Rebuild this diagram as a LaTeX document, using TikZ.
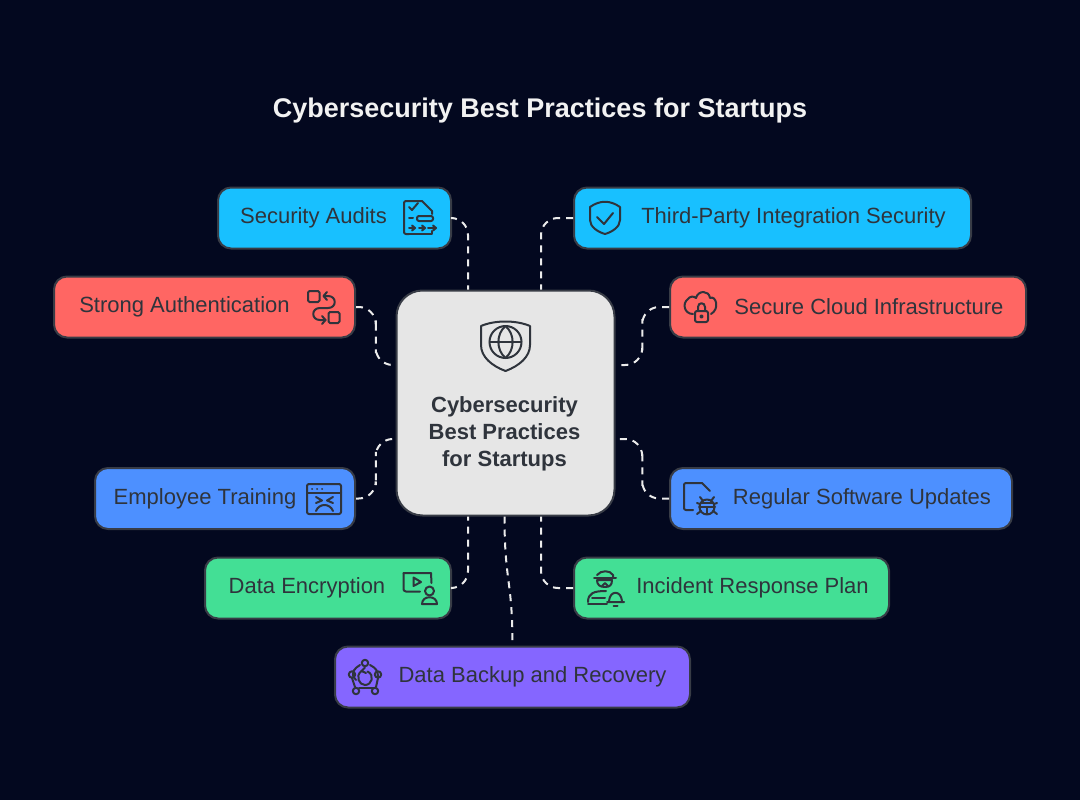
\documentclass[tikz,border=0pt]{standalone}
\usepackage{fontspec}
\usepackage{xcolor}
\usetikzlibrary{calc}
\setmainfont{Liberation Sans}
\definecolor{night}{HTML}{03081F}
\definecolor{ink}{HTML}{2F343C}
\definecolor{rim}{HTML}{383C46}
\definecolor{hubgray}{HTML}{E6E6E6}
\definecolor{skyc}{HTML}{18C0FF}
\definecolor{coral}{HTML}{FF6663}
\definecolor{azure}{HTML}{4D90FF}
\definecolor{mint}{HTML}{43DF95}
\definecolor{violet}{HTML}{8566FF}

\begin{document}
\begin{tikzpicture}[x=1pt,y=-1pt]
        \tikzstyle{boxnode}=[draw=rim,line width=2pt,rounded corners=13pt,minimum height=61pt,inner sep=0pt]
        \tikzstyle{textnode}=[text=ink,font=\fontsize{22}{26}\selectfont,inner sep=0pt]
        \tikzstyle{link}=[draw=white!92!black,line width=2pt,dash pattern=on 7pt off 6pt,rounded corners=17pt]
        \tikzstyle{icon}=[draw=ink,line width=2pt,line cap=round,line join=round]

            \fill[night] (0,0) rectangle (1080,800);
            \node[text=white!95!black,font=\fontsize{27}{32}\selectfont\bfseries,inner sep=0pt] (Title) at (540,111) {Cybersecurity Best Practices for Startups};

            \node[boxnode,fill=hubgray,rounded corners=26pt,minimum width=218pt,minimum height=225pt] (Hub) at (505.5,403) {};
            \node[textnode,font=\fontsize{22}{27.2}\selectfont\bfseries,align=center] (HubText) at ($(Hub)+(-1,31)$) {Cybersecurity\\Best Practices\\for Startups};

            \node[boxnode,fill=skyc,minimum width=233pt] (Audits) at (334.5,218) {};
            \node[boxnode,fill=skyc,minimum width=397pt] (Third) at (772.5,218) {};
            \node[boxnode,fill=coral,minimum width=301pt] (Auth) at (204.5,307) {};
            \node[boxnode,fill=coral,minimum width=356pt] (Cloud) at (848,307) {};
            \node[boxnode,fill=azure,minimum width=260pt] (Training) at (225,498.5) {};
            \node[boxnode,fill=azure,minimum width=342pt] (Updates) at (841,498.5) {};
            \node[boxnode,fill=mint,minimum width=246pt] (Encrypt) at (328,588) {};
            \node[boxnode,fill=mint,minimum width=315pt] (Incident) at (731.5,588) {};
            \node[boxnode,fill=violet,minimum width=355pt] (Backup) at (512.5,677) {};

            \node[textnode] (AuditsT) at ($(Audits)+(-21,0)$) {Security Audits};
            \node[textnode] (ThirdT) at ($(Third)+(21,0)$) {Third-Party Integration Security};
            \node[textnode] (AuthT) at ($(Auth)+(-20,0)$) {Strong Authentication};
            \node[textnode] (CloudT) at ($(Cloud)+(21,0)$) {Secure Cloud Infrastructure};
            \node[textnode] (TrainingT) at ($(Training)+(-20,0)$) {Employee Training};
            \node[textnode] (UpdatesT) at ($(Updates)+(21,0)$) {Regular Software Updates};
            \node[textnode] (EncryptT) at ($(Encrypt)+(-21,0)$) {Data Encryption};
            \node[textnode] (IncidentT) at ($(Incident)+(21,0)$) {Incident Response Plan};
            \node[textnode] (BackupT) at ($(Backup)+(20,0)$) {Data Backup and Recovery};

            \coordinate (HT1) at ($(Hub.north west)+(72.5,0)$);
            \coordinate (HT2) at ($(Hub.north west)+(145.5,0)$);
            \coordinate (HL1) at ($(Hub.north west)+(0,75.5)$);
            \coordinate (HL2) at ($(Hub.north west)+(0,149.5)$);
            \coordinate (HR1) at ($(Hub.north east)+(0,75.5)$);
            \coordinate (HR2) at ($(Hub.north east)+(0,149.5)$);
            \coordinate (HB1) at ($(Hub.south west)+(72.5,0)$);
            \coordinate (HB2) at ($(Hub.south west)+(109,0)$);
            \coordinate (HB3) at ($(Hub.south west)+(145.5,0)$);

            \draw[link] (Audits.east) -| (HT1);
            \draw[link] (Third.west) -| (HT2);
            \draw[link] (Auth.east) -| ($(Auth.east)!.5!(HL1)$) |- (HL1);
            \draw[link] (Cloud.west) -| ($(Cloud.west)!.5!(HR1)$) |- (HR1);
            \draw[link] (Training.east) -| ($(Training.east)!.5!(HL2)$) |- (HL2);
            \draw[link] (Updates.west) -| ($(Updates.west)!.5!(HR2)$) |- (HR2);
            \draw[link] (Encrypt.east) -| (HB1);
            \draw[link] (Incident.west) -| (HB3);
            \draw[link] (HB2) .. controls ($(HB2)+(0,66)$) and ($(Backup.north)+(0,-66)$) .. (Backup.north);

            % icons
            \begin{scope}[every path/.style={icon}]
            \path (481,326) .. controls (495,320) and (516,320) .. (530,326) -- (530,345) .. controls (530,357) and (519,366) .. (505.5,371) .. controls (492,366) and (481,357) .. (481,345) -- cycle;
            \path (505.5,342) circle (16);
            \path (489.5,342) -- (521.5,342);
            \path (505.5,326) .. controls (496,334) and (496,350) .. (505.5,358) .. controls (515,350) and (515,334) .. (505.5,326);

            \path (409,234) -- (406,234) .. controls (404.5,234) and (404,233) .. (404,232) -- (404,203) .. controls (404,202) and (405,201) .. (406,201) -- (422,201) -- (432,211) -- (432,214);
            \path (409,207) -- (412,210) -- (418,203);
            \path (409,218) -- (413,218);
            \path[rounded corners=2pt] (417,216) rectangle (433,221);
            \path (409,228) -- (414,228) (419,228) -- (424,228) (428,228) -- (435,228);
            \path (412,225.5) -- (415,228) -- (412,230.5) (422,225.5) -- (425,228) -- (422,230.5) (433,225.5) -- (436,228) -- (433,230.5);
            \path (409,234) -- (432,234) -- (432,231);

            \path[rounded corners=1.5pt] (308,291) rectangle (319.5,302);
            \path[rounded corners=1.5pt] (328.5,312) rectangle (339.5,323);
            \path (327,292) -- (323.5,296) -- (327,300);
            \path (323.5,296) -- (328,296) .. controls (337,296) and (337,308) .. (328,308) -- (320,308) .. controls (311,308) and (311,320) .. (320,320) -- (325.5,320);
            \path (322,316) -- (325.5,320) -- (322,324);

            \path[rounded corners=2pt] (307,484) rectangle (341,514);
            \path (307,493) -- (341,493);
            \path (312,488.5) -- (312.1,488.5) (317,488.5) -- (317.1,488.5) (322,488.5) -- (322.1,488.5);
            \path (316,497) -- (322,500.5) -- (316,503);
            \path (333,497) -- (327,500.5) -- (333,503);
            \path (316,511) .. controls (319,503) and (330,503) .. (333,511);

            \path (403.5,573) -- (431,573) -- (431.5,583);
            \path (420,591.5) -- (406,591.5) .. controls (404,591.5) and (403.5,590) .. (403.5,589) -- (403.5,573);
            \path (413.5,577.5) -- (421,582) -- (413.5,586) -- cycle;
            \path (429.5,591) circle (4.5);
            \path (422,604) .. controls (422,595) and (437,595) .. (437,604) -- cycle;

            \path (356,680) .. controls (349,673) and (355,668) .. (360,665);
            \path (370,665) .. controls (376,668) and (378,671) .. (378,677);
            \path (374,688) -- (359,688);
            \path (378,678) -- (376,687);
            \path (352,678) -- (355,687);
            \path (365,663) circle (3.2) (378,674.5) circle (3.2) (375,691) circle (3.2) (356,691) circle (3.2) (352,674.5) circle (3.2);
            \path (361.5,671) .. controls (355,676) and (359,685) .. (365,685) .. controls (372,685) and (375,675) .. (367.5,671.5);
            \path (365,667.5) -- (361.5,671) -- (366,673);

            \path (597,575) .. controls (601,570) and (610,570) .. (613,575) -- (613,578);
            \path (594,578) -- (616,578);
            \path (597,580) -- (612,580) .. controls (612,585) and (610,587) .. (605,587) .. controls (600,587) and (597,585) .. (597,580);
            \path (602,586) -- (605,583) -- (608,586);
            \path (588,602) .. controls (588,593) and (594,591) .. (606,591);
            \path (588,603.5) -- (607,603.5) (592,598) -- (605,598);
            \path (609,601) .. controls (610,590) and (621,590) .. (622,601) (607,602) -- (624,602);
            \path (613.5,606) -- (617.5,606);

            \path (693,510) -- (686,510) .. controls (684.5,510) and (684,509) .. (684,508) -- (684,485) .. controls (684,484) and (684.5,483) .. (686,483) -- (702,483) -- (710,491);
            \path (707,507) circle (7.5);
            \path (701,503) -- (713,503) (699,507) -- (715,507) (707,507) -- (707,514);
            \path (700,497) -- (703,501) (714,497) -- (711,501);
            \path (697,503) -- (700,504) (717,503) -- (714,504);
            \path (697,514) -- (701,511) (717,514) -- (713,511);

            \path (693,314) .. controls (684,314) and (682,303) .. (688,299) .. controls (690,296) and (694,296) .. (696,298) .. controls (698,290) and (709,290) .. (710,298) .. controls (716,295) and (720,309) .. (711,314);
            \path[rounded corners=2pt] (695,311) rectangle (708,322);
            \path (698,311) -- (698,307) .. controls (698,302) and (705,302) .. (705,307) -- (705,311);
            \path (701.5,316.5) circle (1.2);

            \path (590,207) .. controls (600,200) and (610,200) .. (620,207) -- (620,220) .. controls (620,227) and (612,232) .. (605,234) .. controls (598,232) and (590,227) .. (590,220) -- cycle;
            \path (597,217) -- (604,224) -- (613,213);
            \end{scope}

        \end{tikzpicture}
\end{document}
